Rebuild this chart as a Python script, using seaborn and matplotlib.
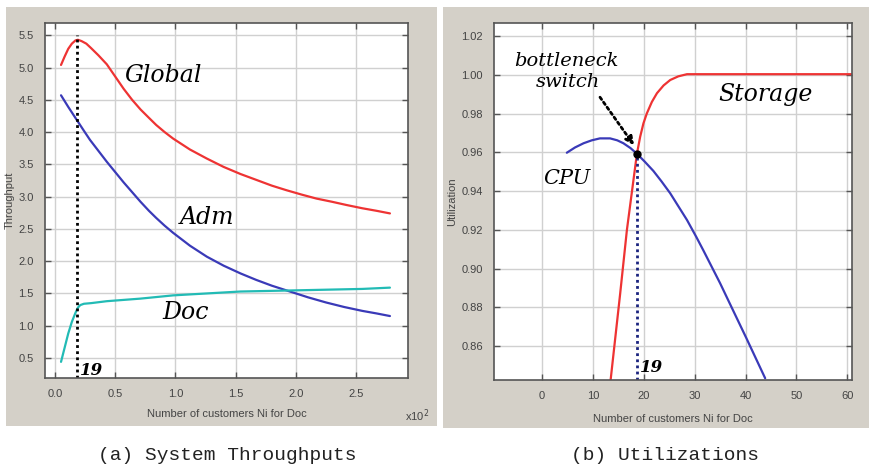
import matplotlib
matplotlib.use('Agg')
import matplotlib.pyplot as plt
from matplotlib.patches import Rectangle
import numpy as np
import pandas as pd
import seaborn as sns

# ---- left panel: system throughputs (x in hundreds of customers) ----
global_x = [0.05, 0.08, 0.11, 0.14, 0.17, 0.19, 0.22, 0.26, 0.30, 0.36, 0.43, 0.50, 0.57, 0.64, 0.71, 0.78,
            0.84, 0.91, 0.98, 1.12, 1.26, 1.40, 1.54, 1.67, 1.80, 1.92, 2.05, 2.17, 2.30, 2.42, 2.55, 2.67, 2.78]
global_y = [5.04, 5.17, 5.29, 5.37, 5.42, 5.43, 5.41, 5.37, 5.30, 5.19, 5.05, 4.86, 4.67, 4.50, 4.35, 4.22,
            4.11, 4.00, 3.90, 3.73, 3.59, 3.46, 3.35, 3.26, 3.17, 3.10, 3.03, 2.97, 2.92, 2.87, 2.82, 2.78, 2.74]

adm_x = [0.05, 0.11, 0.18, 0.24, 0.29, 0.36, 0.43, 0.50, 0.57, 0.64, 0.71, 0.78, 0.84, 0.91, 0.98, 1.12,
         1.26, 1.40, 1.54, 1.67, 1.80, 1.95, 2.10, 2.25, 2.40, 2.55, 2.67, 2.78]
adm_y = [4.57, 4.39, 4.19, 4.02, 3.88, 3.71, 3.54, 3.38, 3.22, 3.07, 2.92, 2.78, 2.67, 2.55, 2.44, 2.24,
         2.07, 1.93, 1.81, 1.71, 1.62, 1.53, 1.44, 1.36, 1.29, 1.23, 1.19, 1.15]

doc_x = [0.05, 0.08, 0.11, 0.14, 0.17, 0.19, 0.21, 0.24, 0.30, 0.43, 0.71, 0.98, 1.26, 1.54, 1.80, 2.05,
         2.30, 2.55, 2.78]
doc_y = [0.44, 0.66, 0.88, 1.06, 1.20, 1.28, 1.32, 1.34, 1.35, 1.38, 1.42, 1.47, 1.50, 1.53, 1.54, 1.55,
         1.56, 1.57, 1.59]

# ---- right panel: utilizations ----
storage_x = [13.5, 15.37, 16.7, 17.4, 18.0, 18.65, 19.3, 19.95, 20.6, 21.6, 22.6, 23.9, 25.2, 26.8,
             28.5, 40.0, 50.0, 61.0]
storage_y = [0.8426, 0.8870, 0.9200, 0.9340, 0.9460, 0.9590, 0.9680, 0.9750, 0.9800, 0.9860, 0.9905,
             0.9945, 0.9973, 0.9992, 1.0003, 1.0003, 1.0003, 1.0003]

cpu_x = [4.9, 6.5, 8.2, 9.8, 11.4, 13.4, 14.8, 16.0, 17.4, 18.7, 20.2, 21.9, 23.5, 25.2, 26.8, 28.5,
         30.3, 31.7, 35.0, 37.0, 40.1, 43.85]
cpu_y = [0.9598, 0.9625, 0.9647, 0.9662, 0.9672, 0.9672, 0.9662, 0.9647, 0.9622, 0.9592, 0.9552, 0.9504,
         0.9450, 0.9389, 0.9322, 0.9251, 0.9165, 0.9095, 0.8925, 0.8815, 0.8645, 0.8435]

switch_n = 18.65
switch_u = 0.9593

panel_gray = '#d4d0c8'
grid_c = '#d0d0d0'
tick_c = '#444444'
hand = dict(family='DejaVu Serif', style='italic', color='black')

sns.set_theme(style='white')
plt.rcParams['font.family'] = ['Liberation Sans', 'DejaVu Sans']

fig = plt.figure(figsize=(8.7, 4.66), dpi=100)
fig.patch.set_facecolor('white')
fig.patches.append(Rectangle((6/870, 40/466), 431/870, 419/466, transform=fig.transFigure,
                             facecolor=panel_gray, edgecolor='none', zorder=-10))
fig.patches.append(Rectangle((443/870, 38/466), 427/870, 421/466, transform=fig.transFigure,
                             facecolor=panel_gray, edgecolor='none', zorder=-10))

ax1 = fig.add_axes([45/870, 88/466, 363/870, 355/466])
ax2 = fig.add_axes([494/870, 86/466, 358/870, 357/466])


def style_axes(ax):
    ax.set_facecolor('white')
    ax.grid(True, color=grid_c, linewidth=1)
    ax.set_axisbelow(True)
    for s in ax.spines.values():
        s.set_color('#555555')
        s.set_linewidth(1.2)
        s.set_visible(True)
    ax.tick_params(direction='in', length=4, width=1, colors='#555555', labelcolor=tick_c,
                   labelsize=8, pad=8, top=True, right=True, bottom=True, left=True)


# left panel
sns.lineplot(data=pd.DataFrame({'n': global_x, 't': global_y}), x='n', y='t', ax=ax1,
             color='#ee3333', linewidth=1.6, sort=False)
sns.lineplot(data=pd.DataFrame({'n': adm_x, 't': adm_y}), x='n', y='t', ax=ax1,
             color='#3a3ab8', linewidth=1.6, sort=False)
sns.lineplot(data=pd.DataFrame({'n': doc_x, 't': doc_y}), x='n', y='t', ax=ax1,
             color='#22bbb5', linewidth=1.6, sort=False)
ax1.plot([0.185, 0.185], [0.19, 5.5], color='black', linestyle=(0, (1, 1.2)), linewidth=2)
style_axes(ax1)
ax1.set_xlim(-0.083, 2.93)
ax1.set_ylim(0.19, 5.69)
ax1.set_xticks([0.0, 0.5, 1.0, 1.5, 2.0, 2.5])
ax1.set_yticks([0.5, 1.0, 1.5, 2.0, 2.5, 3.0, 3.5, 4.0, 4.5, 5.0, 5.5])
ax1.set_xticklabels(['0.0', '0.5', '1.0', '1.5', '2.0', '2.5'])
ax1.set_yticklabels(['0.5', '1.0', '1.5', '2.0', '2.5', '3.0', '3.5', '4.0', '4.5', '5.0', '5.5'])
ax1.set_xlabel('Number of customers Ni for Doc', fontsize=8, color=tick_c, labelpad=7)
ax1.set_ylabel('Throughput', fontsize=8, color=tick_c, labelpad=3)
ax1.text(0.90, 4.88, 'Global', fontsize=17, ha='center', va='center', **hand)
ax1.text(1.26, 2.67, 'Adm', fontsize=17, ha='center', va='center', **hand)
ax1.text(1.08, 1.20, 'Doc', fontsize=17, ha='center', va='center', **hand)
ax1.text(0.21, 0.30, '19', fontsize=12, ha='left', va='center', weight='bold', **hand)
fig.text(417/870, 1 - 416/466, r'x10$^2$', fontsize=8, color=tick_c, ha='center', va='center')

# right panel
sns.lineplot(data=pd.DataFrame({'n': storage_x, 'u': storage_y}), x='n', y='u', ax=ax2,
             color='#ee3333', linewidth=1.6, sort=False)
sns.lineplot(data=pd.DataFrame({'n': cpu_x, 'u': cpu_y}), x='n', y='u', ax=ax2,
             color='#3a3ab8', linewidth=1.6, sort=False)
ax2.plot([switch_n, switch_n], [0.8426, switch_u], color='#1a237e', linestyle=(0, (1, 1.2)), linewidth=2)
ax2.plot([switch_n], [switch_u], 'o', color='black', markersize=5, zorder=5)
ax2.annotate('', xy=(18.4, 0.9625), xytext=(11.1, 0.9896),
             arrowprops=dict(arrowstyle='-|>', color='black', linestyle=(0, (1, 1.2)),
                             linewidth=2, mutation_scale=12))
style_axes(ax2)
ax2.set_xlim(-9.4, 60.9)
ax2.set_ylim(0.8426, 1.0267)
ax2.set_xticks([0, 10, 20, 30, 40, 50, 60])
ax2.set_yticks([0.86, 0.88, 0.90, 0.92, 0.94, 0.96, 0.98, 1.00, 1.02])
ax2.set_xticklabels(['0', '10', '20', '30', '40', '50', '60'])
ax2.set_yticklabels(['0.86', '0.88', '0.90', '0.92', '0.94', '0.96', '0.98', '1.00', '1.02'])
ax2.set_xlabel('Number of customers Ni for Doc', fontsize=8, color=tick_c, labelpad=9)
ax2.set_ylabel('Utilization', fontsize=8, color=tick_c, labelpad=3)
ax2.text(4.9, 1.0071, 'bottleneck', fontsize=14, ha='center', va='center', **hand)
ax2.text(5.2, 0.9964, 'switch', fontsize=14, ha='center', va='center', **hand)
ax2.text(43.85, 0.9896, 'Storage', fontsize=17, ha='center', va='center', **hand)
ax2.text(4.9, 0.9466, 'CPU', fontsize=15, ha='center', va='center', **hand)
ax2.text(19.3, 0.849, '19', fontsize=12, ha='left', va='center', weight='bold', **hand)

# captions
fig.text(227/870, 1 - 455/466, '(a) System Throughputs', fontsize=14, ha='center', va='center',
         family='Liberation Mono', color='#222222')
fig.text(665/870, 1 - 455/466, '(b) Utilizations', fontsize=14, ha='center', va='center',
         family='Liberation Mono', color='#222222')

fig.savefig('out.png', dpi=100, facecolor='white')
